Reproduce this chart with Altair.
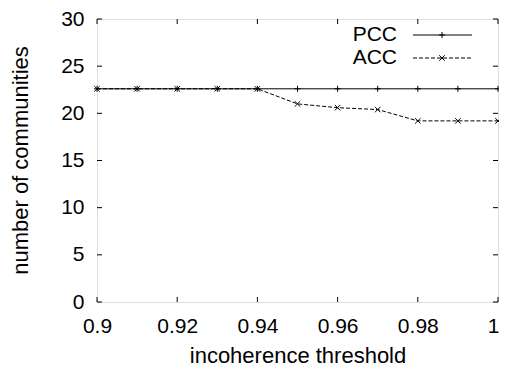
import altair as alt
import pandas as pd

# ---- data ----
thresholds = [0.90, 0.91, 0.92, 0.93, 0.94, 0.95, 0.96, 0.97, 0.98, 0.99, 1.00]
pcc = [22.6, 22.6, 22.6, 22.6, 22.6, 22.6, 22.6, 22.6, 22.6, 22.6, 22.6]
acc = [22.6, 22.6, 22.6, 22.6, 22.6, 21.0, 20.6, 20.4, 19.2, 19.2, 19.2]
x_ticks = [0.90, 0.92, 0.94, 0.96, 0.98, 1.00]
y_ticks = [0, 5, 10, 15, 20, 25, 30]
series = ["PCC", "ACC"]

W, H = 401, 283
FONT = "Liberation Sans"

df_pcc = pd.DataFrame({"t": thresholds, "v": pcc})
df_acc = pd.DataFrame({"t": thresholds, "v": acc})
df_xt = pd.DataFrame({"t": x_ticks})
df_yt = pd.DataFrame({"v": y_ticks})

xs = alt.Scale(domain=[0.9, 1.0], nice=False, zero=False)
ys = alt.Scale(domain=[0, 30], nice=False)

x_axis = alt.Axis(values=x_ticks, format=".2~f", title="incoherence threshold",
                  domain=False, ticks=False, grid=False, labelFontSize=21,
                  labelFont=FONT, labelColor="black", labelPadding=13,
                  labelAlign={"condition": {"test": "datum.value >= 0.999", "value": "right"},
                              "value": "center"},
                  labelOffset={"condition": {"test": "datum.value >= 0.999", "value": 1},
                               "value": 0},
                  titleFont=FONT, titleFontSize=22, titleFontWeight="normal",
                  titleColor="black", titleBaseline="alphabetic",
                  titleX=200.5, titleY=60, labelFlush=False)
y_axis = alt.Axis(values=y_ticks, title="number of communities",
                  domain=False, ticks=False, grid=False, labelFontSize=21,
                  labelFont=FONT, labelColor="black", labelPadding=13,
                  titleFont=FONT, titleFontSize=22, titleFontWeight="normal",
                  titleColor="black", titleBaseline="alphabetic",
                  titleX=-70, titleY=141, titleAngle=-90, titleAlign="center",
                  labelFlush=False)

X = alt.X("t:Q", scale=xs, axis=x_axis)
Y = alt.Y("v:Q", scale=ys, axis=y_axis)

PLUS = "M-1,0H1M0,-1V1"
CROSS = "M-1,-1L1,1M-1,1L1,-1"

pcc_line = alt.Chart(df_pcc).mark_line(color="black", strokeWidth=1).encode(x=X, y=Y)
pcc_pts = alt.Chart(df_pcc).mark_point(shape=PLUS, size=36, color="black",
                                       strokeWidth=1, filled=False, opacity=1).encode(x=X, y=Y)
acc_line = alt.Chart(df_acc).mark_line(color="black", strokeWidth=1,
                                       strokeDash=[4, 2]).encode(x=X, y=Y)
acc_pts = alt.Chart(df_acc).mark_point(shape=CROSS, size=30, color="black",
                                       strokeWidth=1, filled=False, opacity=1).encode(x=X, y=Y)

TL = 5
xt_bot = alt.Chart(df_xt).mark_rule(color="black", strokeWidth=1).encode(
    x=X, y=alt.value(H), y2=alt.value(H - TL))
xt_top = alt.Chart(df_xt).mark_rule(color="black", strokeWidth=1).encode(
    x=X, y=alt.value(0), y2=alt.value(TL))
yt_left = alt.Chart(df_yt).mark_rule(color="black", strokeWidth=1).encode(
    y=Y, x=alt.value(0), x2=alt.value(TL))
yt_right = alt.Chart(df_yt).mark_rule(color="black", strokeWidth=1).encode(
    y=Y, x=alt.value(W), x2=alt.value(W - TL))

# ---- legend (gnuplot style, inside top right) ----
df_leg_p = pd.DataFrame({"s": [series[0]]})
df_leg_a = pd.DataFrame({"s": [series[1]]})
leg_y = {"PCC": 16, "ACC": 39}
leg_text_p = alt.Chart(df_leg_p).mark_text(align="right", baseline="middle", font=FONT,
                                          fontSize=21, color="black").encode(
    text="s:N", x=alt.value(300), y=alt.value(leg_y["PCC"]))
leg_text_a = alt.Chart(df_leg_a).mark_text(align="right", baseline="middle", font=FONT,
                                          fontSize=21, color="black").encode(
    text="s:N", x=alt.value(300), y=alt.value(leg_y["ACC"]))
leg_line_p = alt.Chart(df_leg_p).mark_rule(color="black", strokeWidth=1).encode(
    x=alt.value(316), x2=alt.value(375), y=alt.value(leg_y["PCC"]))
leg_line_a = alt.Chart(df_leg_a).mark_rule(color="black", strokeWidth=1,
                                           strokeDash=[4, 2]).encode(
    x=alt.value(316), x2=alt.value(375), y=alt.value(leg_y["ACC"]))
leg_pt_p = alt.Chart(df_leg_p).mark_point(shape=PLUS, size=36, color="black",
                                          strokeWidth=1, filled=False, opacity=1).encode(
    x=alt.value(345), y=alt.value(leg_y["PCC"]))
leg_pt_a = alt.Chart(df_leg_a).mark_point(shape=CROSS, size=30, color="black",
                                          strokeWidth=1, filled=False, opacity=1).encode(
    x=alt.value(345), y=alt.value(leg_y["ACC"]))

chart = alt.layer(
    xt_bot, xt_top, yt_left, yt_right,
    pcc_line, pcc_pts, acc_line, acc_pts,
    leg_text_p, leg_text_a, leg_line_p, leg_line_a, leg_pt_p, leg_pt_a,
).properties(
    width=W, height=H,
    autosize=alt.AutoSizeParams(type="none"),
    padding={"left": 89, "top": 11, "right": 1, "bottom": 66},
).configure_view(stroke="black", strokeWidth=1).configure(background="white")

chart.save("out.html", embed_options={"renderer": "svg", "actions": False})
